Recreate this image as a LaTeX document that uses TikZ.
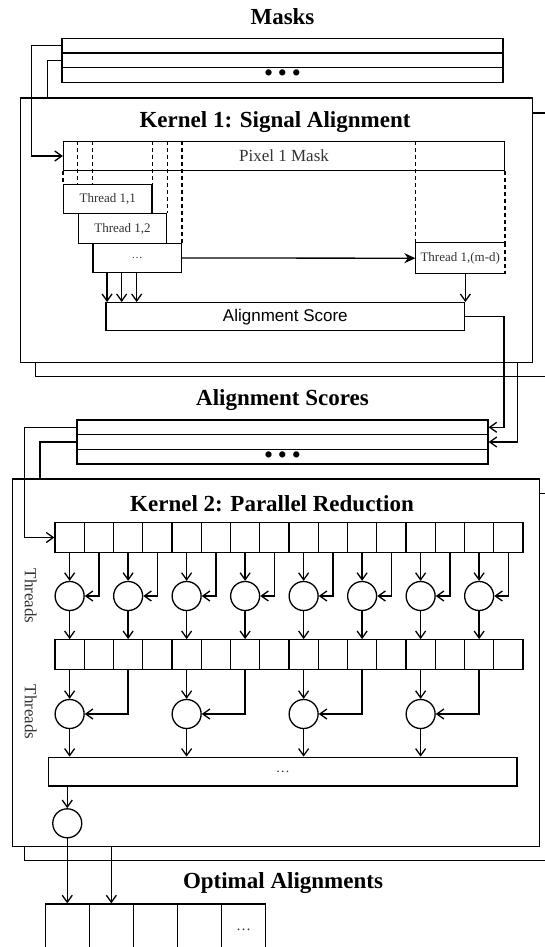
\documentclass[tikz,border=0pt]{standalone}
\usepackage{fontspec}
\setmainfont{Liberation Serif}
\newfontfamily\arialfont{Liberation Sans}
\usetikzlibrary{arrows.meta}

\tikzset{
  box/.style={draw, fill=white, inner sep=0pt, text=black!80},
  rowbox/.style={box, minimum width=#1, minimum height=14.6pt},
  tbox/.style={box, minimum width=88.4pt, minimum height=29.5pt, font=\fontsize{13}{13}\selectfont},
  cell/.style={box, minimum width=29.25pt, minimum height=29.5pt},
  ocell/.style={box, minimum width=44.1pt, minimum height=52pt, font=\fontsize{15}{15}\selectfont},
  thr/.style={draw, circle, fill=white, minimum size=29pt, inner sep=0pt},
  arr/.style={-{Straight Barb[length=7pt,width=10pt]}},
  dsh/.style={dash pattern=on 4pt off 3pt},
  title/.style={font=\fontsize{23}{26}\selectfont\bfseries},
  dots/.style={font=\fontsize{23}{23}\selectfont\bfseries, text=black},
}

\begin{document}
\begin{tikzpicture}[x=1pt, y=-1pt, line width=1.3pt]
  \useasboundingbox (0,0) rectangle (545,947);
  \clip (0,0) rectangle (545,947);

  % Masks
  \node[title] (masksT) at (282.5,17) {Masks};
  \node[rowbox=441pt] (m1) at (282.5,45.8) {};
  \node[rowbox=441pt] (m2) at (282.5,60.4) {};
  \node[rowbox=441pt, dots] (m3) at (282.5,75) {\textbullet\ \textbullet\ \textbullet};

  % Alignment Scores
  \node[title] (scoresT) at (282.5,400) {Alignment Scores};
  \node[rowbox=411pt] (a1) at (282.5,427.3) {};
  \node[rowbox=411pt] (a2) at (282.5,442) {};
  \node[rowbox=411pt, dots] (a3) at (282.5,456.7) {\textbullet\ \textbullet\ \textbullet};

  % Optimal Alignments
  \node[title] (optT) at (283,883) {Optimal Alignments};
  \foreach \i in {1,2,3,4}
    \node[ocell] (o\i) at ({45.2+44.1*(\i-0.5)},930) {};
  \node[ocell] (o5) at (243.65,930) {\ldots};

  % Kernel 1 (instance behind)
  \node[box, anchor=north west, minimum width=535pt, minimum height=263.4pt] (k1b) at (34.8,112.3) {};
  \draw (m2.west) -| ([xshift=13pt]k1b.north west);
  \coordinate (s2) at (517.5,340);
  \draw[arr] (s2) |- (a2.east);

  % Kernel 1
  \node[box, anchor=north west, minimum width=512pt, minimum height=264pt] (k1) at (20,97.5) {};
  \node[title] (k1T) at (275,122) {Kernel 1: Signal Alignment};
  \node[box, minimum width=441pt, minimum height=29pt, font=\fontsize{17}{17}\selectfont] (pix) at (284,156) {Pixel 1 Mask};
  \node[tbox] (t1) at (107.8,199) {Thread 1,1};
  \node[tbox] (t2) at (122.5,228.5) {Thread 1,2};
  \node[tbox, font=\fontsize{11}{11}\selectfont] (t3) at (137.2,258) {\ldots};
  \node[tbox, draw=none] (tm) at (460.2,258.2) {Thread 1,(m-d)};
  \draw (tm.north east) -- (tm.north west) -- (tm.south west) -- (tm.south east);
  \draw[dsh] (tm.north east) -- (tm.south east);

  % windows of the threads
  \draw[dsh] (t1.north west |- pix.south) -- (t1.north west);
  \draw[dsh] (tm.north east |- pix.south) -- (tm.north east);
  \foreach \n/\m in {t2.north west/t1, t3.north west/t1, t1.north east/t1,
                     t2.north east/t2, t3.north east/t3, tm.north west/tm}
    \draw[dsh] (\n |- pix.north) -- (\n |- \m.north);

  \draw[-{Stealth[length=11pt,width=10pt]}] (t3.east) -- (tm.west);
  \node[box, minimum width=358.7pt, minimum height=28pt, text=black,
        font=\arialfont\fontsize{17}{17}\selectfont] (score) at (285.35,316.7) {Alignment Score};
  \foreach \dx in {14.7,29.3,44.3}
    \draw[arr] ([xshift=\dx pt]t3.south west) coordinate (tmp) -- (tmp |- score.north);
  \draw[arr] (tm.south -| score.east) -- (score.north east);
  \draw[arr] (m1.west) -- ++(-30,0) |- (pix.west);
  \draw[arr] (score.east) -- ++(38.5,0) |- (a1.east);

  % Kernel 2 (instance behind)
  \node[box, anchor=north west, minimum width=546.5pt, minimum height=367pt] (k2b) at (23.5,493) {};
  \draw (a2.west) -| ([xshift=16.5pt]k2b.north west);
  \coordinate (r2) at (111.35,830);
  \draw[arr] (r2) -- (o2.north);

  % Kernel 2
  \node[box, anchor=north west, minimum width=527pt, minimum height=367.2pt] (k2) at (11.5,478.3) {};
  \node[title] (k2T) at (272,503.3) {Kernel 2: Parallel Reduction};
  \foreach \i in {0,...,15} {
    \node[cell] (c\i) at ({69.625+29.25*\i},537.5) {};
    \node[cell] (d\i) at ({69.625+29.25*\i},654.5) {};
  }
  \node[rotate=-90, text=black!80, font=\fontsize{17}{17}\selectfont] (th1) at (30.6,596) {Threads};
  \node[rotate=-90, text=black!80, font=\fontsize{17}{17}\selectfont] (th2) at (30.6,712) {Threads};

  % first reduction step
  \foreach \k in {0,...,7} {
    \pgfmathtruncatemacro\a{2*\k}
    \pgfmathtruncatemacro\b{2*\k+1}
    \node[thr] (p\k) at ({69.625+58.5*\k},596) {};
    \draw[arr] (c\a.south) -- (p\k.north);
    \draw[arr] (c\b.south) |- (p\k.east);
    \draw[arr] (p\k.south) -- (d\a.north);
  }

  % second reduction step
  \node[box, minimum width=468.3pt, minimum height=28.7pt, font=\fontsize{14}{14}\selectfont] (fin) at (282.85,771.65) {\ldots};
  \foreach \k in {0,...,3} {
    \pgfmathtruncatemacro\a{4*\k}
    \pgfmathtruncatemacro\b{4*\k+2}
    \node[thr] (q\k) at ({69.625+117*\k},714) {};
    \draw[arr] (d\a.south) -- (q\k.north);
    \draw[arr] (d\b.south) |- (q\k.east);
    \draw[arr] (q\k.south) -- (q\k.south |- fin.north);
  }

  \node[thr] (z) at (67.25,823.3) {};
  \draw[arr] (fin.south -| z) -- (z.north);
  \draw[arr] (z.south) -- (o1.north);
  \draw[arr] (a1.west) -- ++(-52,0) |- (c0.west);
\end{tikzpicture}
\end{document}
